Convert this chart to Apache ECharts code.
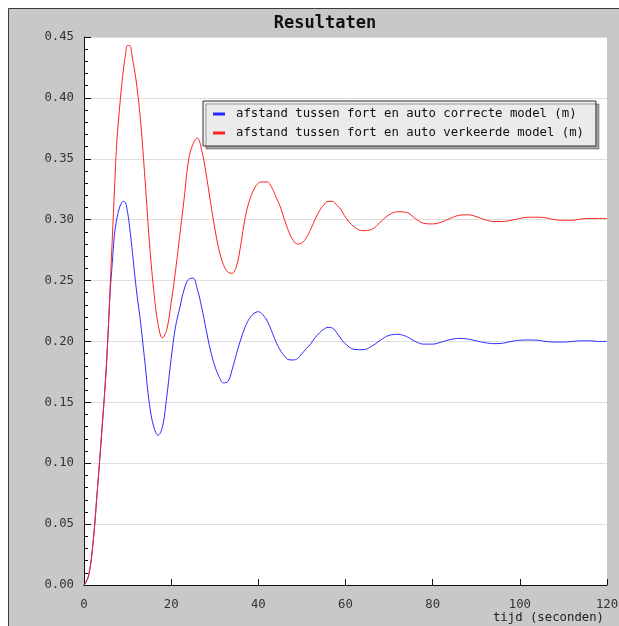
<!DOCTYPE html>
<html>
<head>
<meta charset="utf-8">
<title>Resultaten</title>
<script src="https://cdn.jsdelivr.net/npm/echarts@6/dist/echarts.min.js"></script>
<style>
  html, body { margin: 0; padding: 0; background: #fff; }
  #chart { width: 619px; height: 626px; }
</style>
</head>
<body>
<div id="chart"></div>
<script>
// Time stamps (s) shared by both series
const seconds = [
  0, 1, 2, 3, 4, 5, 5.5, 6, 6.5, 7, 7.5, 8, 8.5, 9, 9.5, 10, 10.5, 11,
  12, 13, 14, 15, 16, 17, 18, 19, 20, 21, 22, 23, 24, 25, 26, 27, 28, 29, 30,
  31, 32, 33, 34, 35, 36, 37, 38, 39, 40, 41, 42, 43, 44, 45, 46, 47, 48, 49, 50,
  51, 52, 53, 54, 55, 56, 57, 58, 59, 60,
  62, 64, 66, 68, 70, 72, 74, 76, 78, 80, 82, 84, 86, 88, 90,
  92, 94, 96, 98, 100, 102, 104, 106, 108, 110, 112, 114, 116, 118, 120
];

// Distance fort - car, correct model (m)
const correctModel = [
  0, 0.007, 0.032, 0.075, 0.122, 0.172, 0.205, 0.240, 0.265, 0.288, 0.300, 0.308, 0.313, 0.315, 0.314, 0.306, 0.293, 0.277,
  0.243, 0.215, 0.182, 0.149, 0.130, 0.123, 0.130, 0.155, 0.186, 0.212, 0.228, 0.243, 0.251, 0.252, 0.243, 0.228, 0.210, 0.193, 0.180,
  0.171, 0.166, 0.167, 0.177, 0.190, 0.202, 0.212, 0.219, 0.223, 0.2244, 0.222, 0.217, 0.209, 0.200, 0.193, 0.188, 0.185, 0.1848, 0.186, 0.190,
  0.194, 0.198, 0.203, 0.207, 0.210, 0.2115, 0.211, 0.207, 0.202, 0.198,
  0.1935, 0.1932, 0.196, 0.201, 0.205, 0.2058, 0.204, 0.200, 0.1978, 0.1978, 0.1995, 0.2015, 0.2025, 0.202, 0.2005,
  0.199, 0.1982, 0.1985, 0.200, 0.201, 0.2012, 0.201, 0.200, 0.1995, 0.1995, 0.200, 0.2005, 0.2005, 0.200, 0.200
];

// Distance fort - car, wrong model (m)
const wrongModel = [
  0, 0.007, 0.032, 0.075, 0.122, 0.172, 0.205, 0.245, 0.285, 0.325, 0.362, 0.385, 0.405, 0.422, 0.435, 0.443, 0.443, 0.435,
  0.413, 0.380, 0.333, 0.282, 0.242, 0.214, 0.203, 0.210, 0.232, 0.258, 0.288, 0.318, 0.349, 0.362, 0.367, 0.357, 0.338, 0.315, 0.293,
  0.275, 0.263, 0.257, 0.256, 0.262, 0.280, 0.302, 0.316, 0.325, 0.330, 0.331, 0.331, 0.327, 0.319, 0.311, 0.300, 0.290, 0.283, 0.280, 0.281,
  0.285, 0.292, 0.300, 0.307, 0.312, 0.315, 0.315, 0.312, 0.308, 0.302,
  0.294, 0.291, 0.292, 0.298, 0.304, 0.3065, 0.306, 0.301, 0.297, 0.2965, 0.298, 0.301, 0.3035, 0.304, 0.3025,
  0.300, 0.2985, 0.2985, 0.2995, 0.301, 0.302, 0.302, 0.3015, 0.300, 0.2995, 0.2995, 0.3005, 0.301, 0.301, 0.301
];

const seriesNames = [
  'afstand tussen fort en auto correcte model (m)',
  'afstand tussen fort en auto verkeerde model (m)'
];
const yTicks = [0, 0.05, 0.10, 0.15, 0.20, 0.25, 0.30, 0.35, 0.40, 0.45];
const xTicks = [0, 20, 40, 60, 80, 100, 120];

const FONT = '"DejaVu Sans Mono", "Liberation Mono", monospace';
const pairs = vals => seconds.map((t, i) => [t, vals[i]]);

const chart = echarts.init(document.getElementById('chart'), null, { renderer: 'canvas' });

chart.setOption({
  backgroundColor: '#ffffff',
  animation: false,
  graphic: [
    {
      type: 'rect',
      z: -10,
      silent: true,
      shape: { x: 8.5, y: 8.5, width: 700, height: 700 },
      style: { fill: '#c8c8c8', stroke: '#3a3a3a', lineWidth: 1 }
    }
  ],
  title: {
    text: 'Resultaten',
    left: 320,
    top: 10,
    textAlign: 'center',
    textStyle: { fontFamily: FONT, fontWeight: 'bold', fontSize: 17, color: '#111' }
  },
  legend: {
    orient: 'vertical',
    left: 203,
    top: 101,
    padding: [6, 12, 6, 10],
    itemGap: 5,
    itemWidth: 12,
    itemHeight: 3,
    icon: 'rect',
    backgroundColor: '#ebebeb',
    borderColor: '#333',
    borderWidth: 1,
    shadowColor: 'rgba(0,0,0,0.35)',
    shadowOffsetX: 3,
    shadowOffsetY: 3,
    shadowBlur: 0,
    textStyle: { fontFamily: FONT, fontSize: 12.3, color: '#111', lineHeight: 14, padding: [0, 0, 0, 6] },
    data: seriesNames
  },
  grid: {
    left: 84,
    top: 37,
    right: 12,
    bottom: 41,
    containLabel: false,
    outerBoundsMode: 'none',
    show: true,
    backgroundColor: '#ffffff',
    borderWidth: 0
  },
  xAxis: {
    type: 'value',
    min: xTicks[0],
    max: xTicks[xTicks.length - 1],
    interval: 20,
    name: 'tijd (seconden)',
    nameLocation: 'end',
    nameGap: -3,
    nameMoveOverlap: false,
    nameTextStyle: {
      fontFamily: FONT, fontSize: 12.3, color: '#222',
      align: 'right', verticalAlign: 'top', padding: [27, 0, 0, 0]
    },
    axisLine: { show: true, onZero: false, lineStyle: { color: '#111', width: 1 } },
    axisTick: { show: true, inside: true, length: 6, lineStyle: { color: '#111' } },
    axisLabel: { fontFamily: FONT, fontSize: 12.3, color: '#333', margin: 14 },
    splitLine: { show: false }
  },
  yAxis: {
    type: 'value',
    min: yTicks[0],
    max: yTicks[yTicks.length - 1],
    interval: 0.05,
    axisLine: { show: true, onZero: false, lineStyle: { color: '#111', width: 1 } },
    axisTick: { show: true, inside: true, length: 7, lineStyle: { color: '#111' } },
    minorTick: { show: true, splitNumber: 5, length: 4, lineStyle: { color: '#111' } },
    axisLabel: {
      fontFamily: FONT, fontSize: 12.3, color: '#333', margin: 10,
      formatter: v => v.toFixed(2)
    },
    splitLine: { show: true, lineStyle: { color: '#dedede', width: 1 } }
  },
  series: [
    {
      name: seriesNames[0],
      type: 'line',
      data: pairs(correctModel),
      smooth: 0.4,
      showSymbol: false,
      symbol: 'none',
      lineStyle: { color: '#2a2aff', width: 1 },
      itemStyle: { color: '#2a2aff' }
    },
    {
      name: seriesNames[1],
      type: 'line',
      data: pairs(wrongModel),
      smooth: 0.4,
      showSymbol: false,
      symbol: 'none',
      lineStyle: { color: '#ff2020', width: 1 },
      itemStyle: { color: '#ff2020' }
    }
  ]
});
</script>
</body>
</html>
